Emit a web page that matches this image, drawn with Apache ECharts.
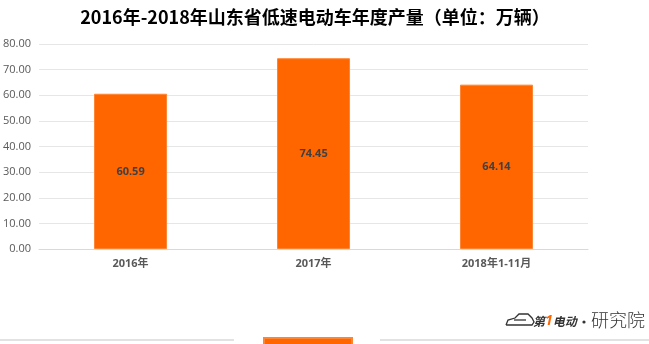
<!DOCTYPE html>
<html>
<head>
<meta charset="utf-8">
<style>
  html, body { margin: 0; padding: 0; background: #fff; }
  #chart { width: 649px; height: 344px; }
</style>
<script src="https://cdn.jsdelivr.net/npm/echarts@6/dist/echarts.min.js"></script>
</head>
<body>
<div id="chart"></div>
<script>
// Annual output of low-speed EVs in Shandong (10k units)
const categories = ['2016年', '2017年', '2018年1-11月'];
const outputValues = [60.59, 74.45, 64.14];
const yTicks = { min: 0, max: 80, interval: 10 };

const FONT = '"Open Sans", "Noto Sans CJK SC", sans-serif';
const chart = echarts.init(document.getElementById('chart'), null, { renderer: 'canvas' });

chart.setOption({
  animation: false,
  backgroundColor: '#ffffff',
  title: {
    text: '2016年-2018年山东省低速电动车年度产量（单位：万辆）',
    left: 310,
    textAlign: 'center',
    top: 3,
    textStyle: {
      fontFamily: '"Noto Sans CJK SC", sans-serif',
      fontSize: 18,
      fontWeight: 'bold',
      color: '#000000'
    }
  },
  legend: {
    data: ['产量'],
    left: 258,
    top: 332,
    itemWidth: 88,
    itemHeight: 20,
    itemGap: 0,
    icon: 'rect',
    formatter: () => '',
    textStyle: { fontSize: 11 }
  },
  grid: { left: 36, right: 61, top: 44, bottom: 95, containLabel: false },
  xAxis: {
    type: 'category',
    data: categories,
    axisTick: { show: false },
    axisLine: { lineStyle: { color: '#D9D9D9', width: 1 } },
    axisLabel: {
      color: '#595959',
      fontFamily: FONT,
      fontSize: 11,
      fontWeight: 'bold',
      margin: 9
    }
  },
  yAxis: {
    type: 'value',
    min: yTicks.min,
    max: yTicks.max,
    interval: yTicks.interval,
    axisLine: { show: false },
    axisTick: { show: false },
    splitLine: { lineStyle: { color: '#E6E6E6', width: 1 } },
    axisLabel: {
      color: '#595959',
      fontFamily: FONT,
      fontSize: 11,
      margin: 8,
      formatter: v => v.toFixed(2)
    }
  },
  series: [{
    name: '产量',
    type: 'bar',
    data: outputValues,
    barWidth: 73,
    itemStyle: { color: '#FF6600', borderColor: '#FF8533', borderWidth: 1 },
    label: {
      show: true,
      position: 'inside',
      color: '#404040',
      fontFamily: FONT,
      fontSize: 11,
      fontWeight: 'bold',
      formatter: p => p.value.toFixed(2)
    }
  }],
  graphic: [
    // separator rule around the legend
    { type: 'line', shape: { x1: 0, y1: 340, x2: 234, y2: 340 }, style: { stroke: '#D9D9D9', lineWidth: 1.5 } },
    { type: 'line', shape: { x1: 380, y1: 340, x2: 649, y2: 340 }, style: { stroke: '#D9D9D9', lineWidth: 1.5 } },
    // brand mark: car outline
    {
      type: 'polyline',
      shape: { points: [[506, 325], [508, 320], [515, 318], [519, 314], [528, 314], [532, 318], [534, 322], [532, 325], [506, 325]] },
      style: { stroke: '#333', fill: 'none', lineWidth: 1.3 }
    },
    { type: 'line', shape: { x1: 514, y1: 320, x2: 526, y2: 320 }, style: { stroke: '#333', lineWidth: 1.3 } },
    {
      type: 'text', left: 533, top: 314,
      style: {
        text: '{a|第}{b|1}{a|电动}',
        rich: {
          a: { fontFamily: '"Noto Sans CJK SC", sans-serif', fontSize: 12, fontWeight: 'bold', fontStyle: 'italic', fill: '#333' },
          b: { fontFamily: FONT, fontSize: 14, fontWeight: 'bold', fontStyle: 'italic', fill: '#FF6600' }
        }
      }
    },
    { type: 'circle', shape: { cx: 584, cy: 322, r: 1.6 }, style: { fill: '#333' } },
    {
      type: 'text', left: 591, top: 311,
      style: {
        text: '研究院',
        fontFamily: '"Noto Sans CJK SC", sans-serif',
        fontSize: 18,
        fontWeight: 300,
        fill: '#333'
      }
    }
  ]
});
</script>
</body>
</html>
